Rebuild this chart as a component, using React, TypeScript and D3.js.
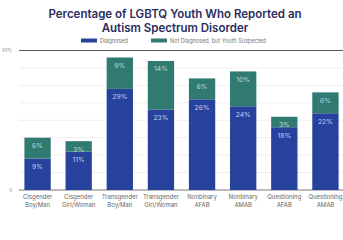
import React, { useEffect, useRef } from "react";
import * as d3 from "d3";

const categories = [
  ["Cisgender", "Boy/Man"],
  ["Cisgender", "Girl/Woman"],
  ["Transgender", "Boy/Man"],
  ["Transgender", "Girl/Woman"],
  ["Nonbinary", "AFAB"],
  ["Nonbinary", "AMAB"],
  ["Questioning", "AFAB"],
  ["Questioning", "AMAB"],
];
const diagnosed = [9, 11, 29, 23, 26, 24, 18, 22];
const suspected = [6, 3, 9, 14, 6, 10, 3, 6];
const seriesNames = ["Diagnosed", "Not Diagnosed, but Youth Suspected"];
const gridTicks = [0, 5, 10, 15, 20, 25, 30, 35, 40];
const tickLabels = [
  { v: 40, t: "40%" },
  { v: 0, t: "0" },
];

const W = 343, H = 240;
const BLUE = "#26429c";
const TEAL = "#307a72";
const FONT = "Inter, 'Noto Sans', sans-serif";

export default function App() {
  const ref = useRef<SVGSVGElement>(null);

  useEffect(() => {
    const svg = d3.select(ref.current);
    svg.selectAll("*").remove();

    const x = d3.scaleBand<number>()
      .domain(d3.range(categories.length))
      .range([17, 346])
      .paddingInner(0.36)
      .paddingOuter(0.18);
    const y = d3.scaleLinear().domain([0, 40]).range([190, 50.5]);

    // title
    const title = svg.append("text")
      .attr("text-anchor", "middle")
      .attr("font-family", FONT)
      .attr("font-weight", 600)
      .attr("font-size", 11.5)
      .attr("fill", "#2b2d5e");
    title.append("tspan").attr("x", 175).attr("y", 18).text("Percentage of LGBTQ Youth Who Reported an");
    title.append("tspan").attr("x", 175).attr("y", 31.5).text("Autism Spectrum Disorder");

    // legend
    const legendX = [81, 151];
    seriesNames.forEach((name, i) => {
      svg.append("rect")
        .attr("x", legendX[i]).attr("y", 38.5)
        .attr("width", 16).attr("height", 4)
        .attr("fill", i === 0 ? BLUE : TEAL);
      svg.append("text")
        .attr("x", legendX[i] + 19).attr("y", 42.5)
        .attr("font-family", FONT).attr("font-size", 5.5)
        .attr("fill", "#777").text(name);
    });

    // grid
    svg.append("g").selectAll("line")
      .data(gridTicks)
      .join("line")
      .attr("x1", 19).attr("x2", 343)
      .attr("y1", d => y(d)).attr("y2", d => y(d))
      .attr("stroke", d => (d === 40 || d === 0 ? "#555" : "#e4e4e4"))
      .attr("stroke-width", d => (d === 40 ? 1 : d === 0 ? 0.8 : 0.6));

    svg.append("g").selectAll("text")
      .data(tickLabels)
      .join("text")
      .attr("x", 12).attr("y", d => y(d.v) + 1.5)
      .attr("text-anchor", "end")
      .attr("font-family", FONT).attr("font-size", 4.5)
      .attr("fill", "#888").text(d => d.t);

    const g = svg.append("g");
    categories.forEach((_, i) => {
      const bx = x(i)!;
      const bw = x.bandwidth();
      const d = diagnosed[i];
      const s = suspected[i];
      g.append("rect")
        .attr("x", bx).attr("width", bw)
        .attr("y", y(d)).attr("height", y(0) - y(d))
        .attr("fill", BLUE);
      g.append("rect")
        .attr("x", bx).attr("width", bw)
        .attr("y", y(d + s)).attr("height", y(d) - y(d + s))
        .attr("fill", TEAL);
      g.append("text")
        .attr("x", bx + bw / 2).attr("y", y(d) + 10.5)
        .attr("text-anchor", "middle")
        .attr("font-family", FONT).attr("font-size", 6.8)
        .attr("fill", "#c3cdf0").text(`${d}%`);
      g.append("text")
        .attr("x", bx + bw / 2).attr("y", y(d + s) + 10.5)
        .attr("text-anchor", "middle")
        .attr("font-family", FONT).attr("font-size", 6.8)
        .attr("fill", "#b5dcd5").text(`${s}%`);
    });

    // x labels
    const xl = svg.append("g");
    categories.forEach((lines, i) => {
      const t = xl.append("text")
        .attr("text-anchor", "middle")
        .attr("font-family", FONT).attr("font-size", 6)
        .attr("fill", "#666");
      lines.forEach((l, j) => {
        t.append("tspan")
          .attr("x", x(i)! + x.bandwidth() / 2)
          .attr("y", 199 + j * 7.5)
          .text(l);
      });
    });
  }, []);

  return (
    <svg
      ref={ref}
      width={W}
      height={H}
      style={{ position: "absolute", left: 0, top: 0, background: "#fff" }}
    />
  );
}
